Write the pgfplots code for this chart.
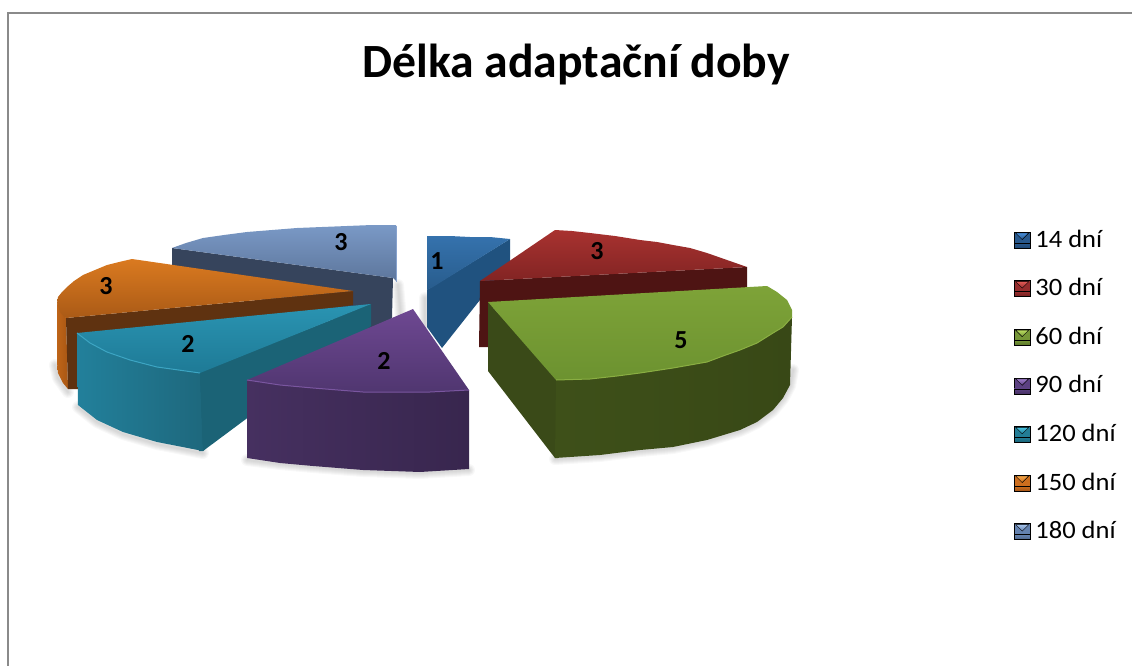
\documentclass[border=0pt]{standalone}
\usepackage{pgfplots}
\usepackage{fontspec}
\pgfplotsset{compat=1.18}
\setmainfont{Carlito}
\newfontfamily\widefont[FakeStretch=1.06]{Carlito}
\definecolor{frameC}{HTML}{8A8A8A}
% shadow under a slice: stacked translucent strokes
\tikzset{
  soft/.style={draw=black,draw opacity=0.028,line width=#1,line cap=round,line join=round,fill=none},
  lab/.style={font=\fontsize{26}{28}\selectfont\bfseries,text=black,inner sep=0pt},
}
% legend key with a bevelled face
\newcommand{\key}[3]{\addlegendimage{legend image code/.code={
  \fill[fill={#1}] (0pt,-1pt) rectangle (16pt,15pt);
  \shade[top color={#1},bottom color={#3}] (0pt,4pt) rectangle (16pt,-1pt);
  \shade[top color={#2},bottom color={#1}] (1.5pt,14pt) -- (14.5pt,14pt) -- (8pt,7.5pt) -- cycle;
}}}
\begin{document}
\begin{tikzpicture}
\begin{axis}[
  scale only axis,width=1132pt,height=666pt,
  xmin=0,xmax=1132,ymin=0,ymax=666,y dir=reverse,
  hide axis,clip=true,
  legend cell align=left,
  legend style={at={(axis cs:1014,230)},anchor=north west,draw=none,fill=none,
    inner sep=0pt,outer sep=0pt,
    /tikz/every odd column/.style={column sep=5pt},
    nodes={inner sep=0pt,text height=17pt,text depth=5pt,anchor=base west},
    row sep=26.6pt,font=\widefont\fontsize{25}{27}\selectfont},
]
% legend keys come first so that they claim the legend entries
\key{rgb,255:red,40;green,88;blue,140}{rgb,255:red,70;green,140;blue,215}{rgb,255:red,30;green,70;blue,115}
\addlegendentry{14 dní}
\key{rgb,255:red,150;green,45;blue,45}{rgb,255:red,225;green,90;blue,85}{rgb,255:red,115;green,30;blue,30}
\addlegendentry{30 dní}
\key{rgb,255:red,118;green,150;blue,55}{rgb,255:red,185;green,220;blue,95}{rgb,255:red,90;green,118;blue,40}
\addlegendentry{60 dní}
\key{rgb,255:red,92;green,65;blue,130}{rgb,255:red,160;green,125;blue,205}{rgb,255:red,70;green,48;blue,100}
\addlegendentry{90 dní}
\key{rgb,255:red,35;green,125;blue,150}{rgb,255:red,70;green,195;blue,225}{rgb,255:red,25;green,98;blue,118}
\addlegendentry{120 dní}
\key{rgb,255:red,205;green,110;blue,30}{rgb,255:red,245;green,165;blue,70}{rgb,255:red,165;green,85;blue,22}
\addlegendentry{150 dní}
\key{rgb,255:red,100;green,130;blue,175}{rgb,255:red,165;green,195;blue,235}{rgb,255:red,78;green,102;blue,140}
\addlegendentry{180 dní}

% full extent of the picture
\path (axis cs:0,0) rectangle (axis cs:1132,666);

% frame of the chart area
\addplot[frameC,line width=2.6pt] coordinates {(8,666) (8,13) (1132,13)};

% soft shadows on the ground
\pgfplotsinvokeforeach{2pt,4pt,6pt,8pt,10pt,12pt}{
  \addplot[soft=#1] coordinates {(555,459) (600,456) (640,451) (673,448) (707,441) (740,431) (757,423) (773,411) (783,399) (790,386) (793,370)};
  \addplot[soft=#1] coordinates {(247,460) (280,464) (313,467) (363,471) (420,473) (469,470)};
  \addplot[soft=#1] coordinates {(78,407) (97,422) (123,434) (157,444) (203,453)};
  \addplot[soft=#1] coordinates {(55,365) (58,378) (68,392)};
  \addplot[soft=#1] coordinates {(398,285) (401,320)};
  \addplot[soft=#1] coordinates {(425,298) (425,325)};
}

% 14 dni
\addplot[draw=none,fill={rgb,255:red,32;green,82;blue,127}] coordinates {(510,239) (510,262) (442,348) (427,327) (427,290)} --cycle;
\addplot[draw=none,top color={rgb,255:red,53;green,114;blue,173},bottom color={rgb,255:red,40;green,92;blue,140}] coordinates {(427,236) (450,236) (470,237) (490,237) (510,239) (433,287) (427,290)} --cycle;

% 180 dni
\addplot[draw=none,fill={rgb,255:red,54;green,68;blue,92}] coordinates {(172,248) (393,278) (392,318) (372,330) (172,275)} --cycle;
\addplot[draw=none,top color={rgb,255:red,122;green,153;blue,198},bottom color={rgb,255:red,93;green,118;blue,156}] coordinates {(172,248) (186,243) (203,238) (224,235) (247,232) (272,230) (297,228) (322,227) (347,226) (372,225) (396,225) (396,281) (393,278)} --cycle;
\addplot[draw={rgb,255:red,135;green,162;blue,205},line width=1pt] coordinates {(396,226) (396,282)};

% 30 dni
\addplot[draw=none,fill={rgb,255:red,78;green,20;blue,19}] coordinates {(480,281) (747,267) (747,291) (492,306) (488,347) (479,347)} --cycle;
\addplot[draw=none,top color={rgb,255:red,168;green,50;blue,48},bottom color={rgb,255:red,130;green,36;blue,35}] coordinates {(480,281) (555,230) (572,231) (590,233) (615,236) (640,240) (657,242) (673,245) (690,248) (707,253) (727,260) (747,267)} --cycle;

% 150 dni
\addplot[draw=none,left color={rgb,255:red,190;green,100;blue,24},right color={rgb,255:red,170;green,88;blue,20}] coordinates {(57,303) (66,318) (68,389) (63,383) (58,373) (57,363)} --cycle;
\addplot[draw=none,fill={rgb,255:red,95;green,50;blue,16}] coordinates {(66,318) (353,291) (353,305) (80,345) (78,389) (68,389)} --cycle;
\addplot[draw=none,top color={rgb,255:red,218;green,122;blue,32},bottom color={rgb,255:red,170;green,90;blue,22}] coordinates {(132,259) (119,262) (107,265) (95,270) (83,275) (74,281) (67,287) (62,292) (58,297) (57,303) (60,312) (66,318) (353,291)} --cycle;

% 60 dni
\addplot[draw=none,fill={rgb,255:red,58;green,74;blue,24}] coordinates {(488,302) (559,380) (558,458) (555,458) (488,371)} --cycle;
\addplot[draw=none,left color={rgb,255:red,62;green,80;blue,25},middle color={rgb,255:red,45;green,59;blue,17},right color={rgb,255:red,56;green,72;blue,22}] coordinates {(556,380) (590,379) (617,376) (640,373) (673,368) (707,362) (723,356) (740,350) (757,343) (773,333) (783,327) (792,317) (790,385) (783,398) (773,410) (757,422) (740,430) (707,440) (673,447) (640,450) (600,455) (555,458)} --cycle;
\addplot[draw=none,top color={rgb,255:red,126;green,163;blue,56},bottom color={rgb,255:red,108;green,146;blue,48}] coordinates {(488,302) (767,286) (777,292) (787,300) (792,310) (792,317) (783,327) (773,333) (757,343) (740,350) (723,356) (707,362) (673,368) (640,373) (617,376) (590,379) (556,380)} --cycle;
\addplot[draw={rgb,255:red,138;green,174;blue,66},line width=1pt] coordinates {(556,380) (590,379) (617,376) (640,373) (673,368) (707,362) (723,356) (740,350) (757,343) (773,333) (783,327) (792,317)};

% 120 dni
\addplot[draw=none,fill={rgb,255:red,27;green,99;blue,118}] coordinates {(197,373) (371,304) (371,326) (203,451) (199,451)} --cycle;
\addplot[draw=none,left color={rgb,255:red,34;green,128;blue,155},right color={rgb,255:red,30;green,104;blue,125}] coordinates {(77,333) (90,343) (107,352) (130,360) (157,367) (200,373) (203,451) (157,442) (123,432) (97,420) (78,405)} --cycle;
\addplot[draw=none,fill={rgb,255:red,27;green,99;blue,118}] coordinates {(200,373) (206,371) (208,446) (203,451)} --cycle;
\addplot[draw=none,top color={rgb,255:red,42;green,148;blue,178},bottom color={rgb,255:red,30;green,122;blue,150}] coordinates {(77,333) (90,343) (107,352) (130,360) (157,367) (200,373) (371,304)} --cycle;
\addplot[draw={rgb,255:red,60;green,165;blue,195},line width=1pt] coordinates {(77,333) (90,343) (107,352) (130,360) (157,367) (200,373)};

% 90 dni
\addplot[draw=none,left color={rgb,255:red,70;green,48;blue,96},right color={rgb,255:red,56;green,38;blue,78}] coordinates {(247,380) (280,385) (313,388) (363,392) (430,392) (469,390) (469,469) (420,472) (363,470) (313,466) (280,463) (247,458)} --cycle;
\addplot[draw=none,top color={rgb,255:red,110;green,72;blue,146},bottom color={rgb,255:red,80;green,54;blue,112}] coordinates {(413,309) (469,390) (430,392) (363,392) (313,388) (280,385) (247,380)} --cycle;
\addplot[draw={rgb,255:red,122;green,86;blue,160},line width=1pt] coordinates {(247,380) (280,385) (313,388) (363,392) (430,392) (469,390)};

% data labels
\node[lab] at (axis cs:437,261) {1};
\node[lab] at (axis cs:597,251) {3};
\node[lab] at (axis cs:681,340) {5};
\node[lab] at (axis cs:384,361) {2};
\node[lab] at (axis cs:188,344) {2};
\node[lab] at (axis cs:106,286) {3};
\node[lab] at (axis cs:341,242) {3};

% title
\node[font=\fontsize{47.7}{52}\selectfont\bfseries,text=black,inner sep=0pt] at (axis cs:576,65) {Délka adaptační doby};
\end{axis}
\end{tikzpicture}
\end{document}
